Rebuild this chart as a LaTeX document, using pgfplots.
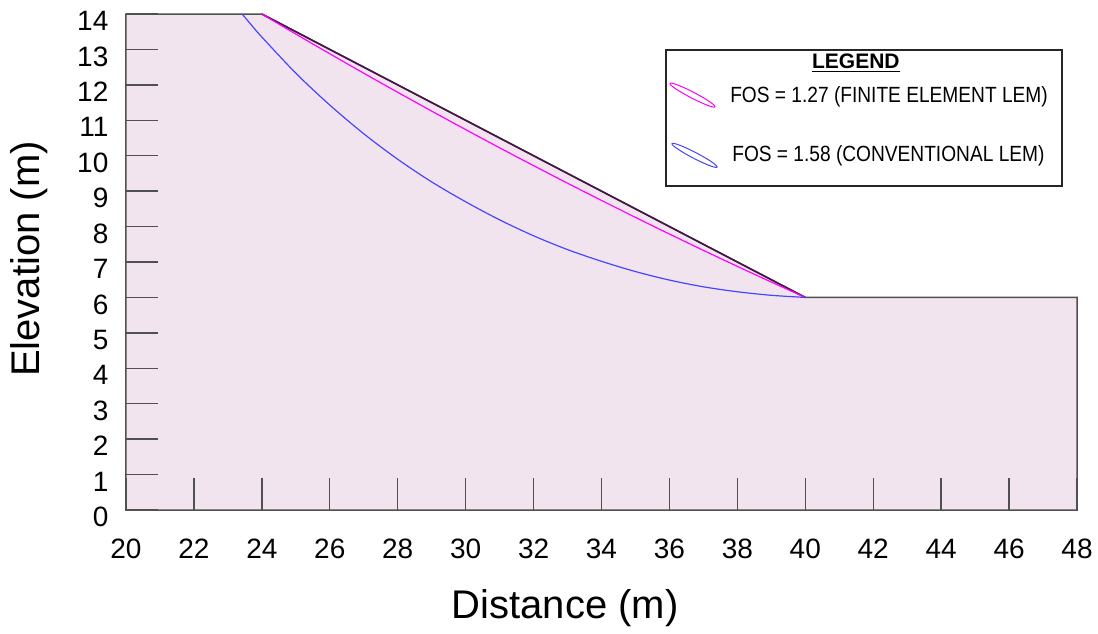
\documentclass[border=0pt]{standalone}
\usepackage{fontspec}
\setmainfont{Liberation Sans}
\newfontfamily\legfont{Liberation Sans}[FakeStretch=0.87]
\usepackage{pgfplots}
\pgfplotsset{compat=1.18}
\usetikzlibrary{shapes.geometric}
\definecolor{slopefill}{RGB}{242,228,238}
\definecolor{outline}{RGB}{80,80,80}
\definecolor{slopeline}{RGB}{70,20,70}
\definecolor{fosblue}{RGB}{70,70,255}
\definecolor{fosmag}{RGB}{255,0,255}
\begin{document}
\begin{tikzpicture}
\begin{axis}[
  scale only axis, width=475.5pt, height=248pt,
  xmin=20, xmax=48, ymin=0, ymax=14,
  axis line style={draw=none},
  xtick={20,22,...,48}, ytick={0,1,...,14},
  xtick pos=bottom, ytick pos=left,
  tick align=inside, major tick length=16pt,
  tick style={color=outline, line width=0.7pt},
  /pgf/number format/assume math mode=true,
  xticklabel style={font=\fontsize{14}{16}\selectfont, anchor=base, yshift=-24pt},
  yticklabel style={font=\fontsize{14}{16}\selectfont, anchor=east, xshift=-5.3pt, yshift=-3.5pt},
  xlabel={Distance (m)}, ylabel={Elevation (m)},
  every axis x label/.style={at={([yshift=-54pt]rel axis cs:0.4618,0)}, anchor=base, font=\fontsize{20}{24}\selectfont},
  every axis y label/.style={at={([xshift=-43pt]rel axis cs:0,0.506)}, anchor=base, rotate=90, font=\fontsize{20}{24}\selectfont},
  axis on top, clip=false,
]
% slope profile
\addplot[fill=slopefill, draw=outline, line width=0.75pt] coordinates {(20,0) (20,14) (24,14) (40,6) (48,6) (48,0)} -- cycle;
\addplot[slopeline, line width=0.8pt] coordinates {(24,14) (40,6)};
% FOS = 1.27 slip surface
\addplot[fosmag, line width=0.6pt, smooth] coordinates {
(24,14) (25,13.434) (26,12.877) (27,12.329) (28,11.79) (29,11.259) (30,10.738) (31,10.224) (32,9.72)
(33,9.224) (34,8.738) (35,8.259) (36,7.79) (37,7.329) (38,6.877) (39,6.434) (40,6)};
% FOS = 1.58 slip surface
\addplot[fosblue, line width=0.6pt, smooth] coordinates {
(23.42,14) (23.7,13.68) (24,13.35) (25,12.33) (26,11.43) (27,10.62) (28,9.90) (29,9.26) (30,8.70)
(31,8.19) (32,7.74) (33,7.35) (34,7.02) (35,6.73) (36,6.49) (37,6.30) (38,6.16) (39,6.06) (40,6)};
% legend
\draw[black!85, line width=0.9pt, fill=white] (axis cs:35.90,12.98) rectangle (axis cs:47.56,9.145);
\node[anchor=base, font=\fontsize{10.5}{12}\selectfont\bfseries] at (axis cs:41.49,12.467) {\underline{LEGEND}};
\node[anchor=west, inner sep=0pt, font=\legfont\fontsize{11}{13}\selectfont] at (axis cs:37.78,11.665) {FOS = 1.27 (FINITE ELEMENT LEM)};
\node[anchor=west, inner sep=0pt, font=\legfont\fontsize{11}{13}\selectfont] at (axis cs:37.84,9.99) {FOS = 1.58 (CONVENTIONAL LEM)};
\node[draw=fosmag, ellipse, minimum width=25.4pt, minimum height=3pt, inner sep=0pt, rotate=-27.5, line width=0.5pt] at (axis cs:36.68,11.71) {};
\node[draw=fosblue, ellipse, minimum width=25.4pt, minimum height=3pt, inner sep=0pt, rotate=-27.5, line width=0.5pt] at (axis cs:36.74,10.01) {};
\coordinate (ll) at (rel axis cs:0,0);
\coordinate (ur) at (rel axis cs:1,1);
\end{axis}
\pgfresetboundingbox
\path ([shift={(-63pt,-61.5pt)}]ll) rectangle ([shift={(10.5pt,7pt)}]ur);
\end{tikzpicture}
\end{document}
